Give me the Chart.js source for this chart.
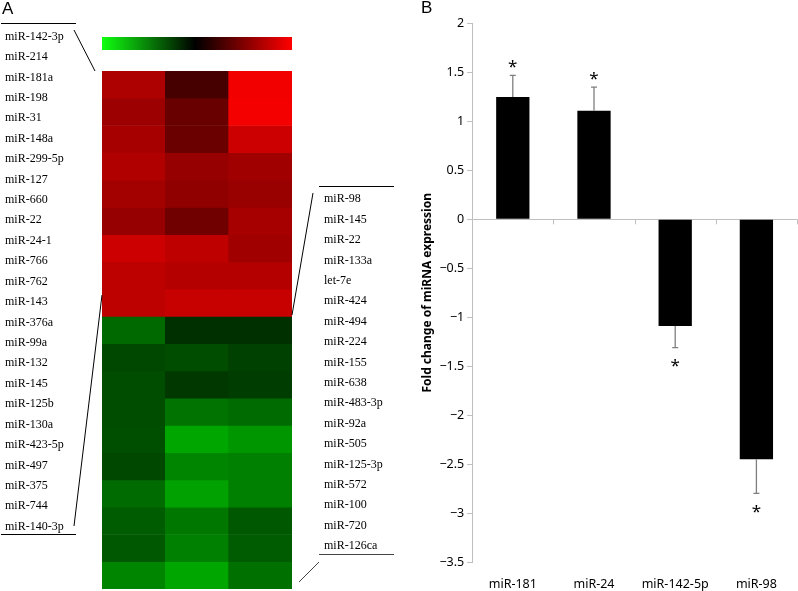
<!DOCTYPE html>
<html>
<head>
<meta charset="utf-8">
<script src="https://cdn.jsdelivr.net/npm/chart.js@4.4.1/dist/chart.umd.min.js"></script>
<style>
  html, body { margin: 0; padding: 0; background: #fff; }
  #page { position: relative; width: 798px; height: 591px; overflow: hidden; }
  #heatBox { position: absolute; left: 0; top: 0; width: 420px; height: 591px; }
  #barBox { position: absolute; left: 420px; top: 0; width: 378px; height: 591px; }
  .lab { position: absolute; font-family: "Liberation Serif", serif; font-size: 12px; line-height: 14px;
         white-space: nowrap; color: #000; transform: translateY(-50%); }
  .panel { position: absolute; font-family: "Liberation Sans", Arial, sans-serif; font-size: 17px; line-height: 17px; }
  #links { position: absolute; left: 0; top: 0; }
</style>
</head>
<body>
<div id="page">
  <div id="heatBox"><canvas id="heat"></canvas></div>
  <div id="barBox"><canvas id="bars"></canvas></div>
  <svg id="links" width="420" height="591">
    <g stroke="#000" stroke-width="1" fill="none">
      <line x1="1" y1="23.5" x2="76" y2="23.5"/>
      <line x1="74" y1="30" x2="95" y2="71"/>
      <line x1="1" y1="534.5" x2="76" y2="534.5"/>
      <line x1="102" y1="295" x2="74" y2="526"/>
      <line x1="319" y1="186.5" x2="394" y2="186.5"/>
      <line x1="313" y1="193" x2="292" y2="315"/>
      <line x1="319" y1="554.5" x2="394" y2="554.5" stroke="#444"/>
      <line x1="319" y1="562" x2="299" y2="582" stroke="#444"/>
    </g>
  </svg>
  <div class="panel" style="left:2px; top:0px;">A</div>
  <div class="panel" style="left:421px; top:-1px;">B</div>
</div>
<script>
/* Panel A: heatmap, three samples x 19 miRNAs (log ratio, red up / green down) */
const heatColumns = ['1', '2', '3'];
const heatCol1 = [0.68, 0.61, 0.65, 0.69, 0.64, 0.59, 0.80, 0.74, 0.74,
  -0.41, -0.28, -0.30, -0.30, -0.31, -0.28, -0.42, -0.36, -0.35, -0.52];
const heatCol2 = [0.28, 0.41, 0.42, 0.59, 0.57, 0.44, 0.75, 0.71, 0.78,
  -0.19, -0.30, -0.22, -0.45, -0.65, -0.52, -0.63, -0.47, -0.50, -0.65];
const heatCol3 = [0.95, 0.96, 0.80, 0.63, 0.60, 0.65, 0.63, 0.71, 0.78,
  -0.19, -0.25, -0.24, -0.42, -0.59, -0.50, -0.50, -0.35, -0.36, -0.44];

const leftNames = ['miR-142-3p', 'miR-214', 'miR-181a', 'miR-198', 'miR-31', 'miR-148a',
  'miR-299-5p', 'miR-127', 'miR-660', 'miR-22', 'miR-24-1', 'miR-766', 'miR-762', 'miR-143',
  'miR-376a', 'miR-99a', 'miR-132', 'miR-145', 'miR-125b', 'miR-130a', 'miR-423-5p',
  'miR-497', 'miR-375', 'miR-744', 'miR-140-3p'];
const rightNames = ['miR-98', 'miR-145', 'miR-22', 'miR-133a', 'let-7e', 'miR-424', 'miR-494',
  'miR-224', 'miR-155', 'miR-638', 'miR-483-3p', 'miR-92a', 'miR-505', 'miR-125-3p',
  'miR-572', 'miR-100', 'miR-720', 'miR-126ca'];

/* Panel B: qPCR fold change */
const barLabels = ['miR-181', 'miR-24', 'miR-142-5p', 'miR-98'];
const foldChange = [1.25, 1.11, -1.09, -2.45];
const foldError = [0.22, 0.24, 0.22, 0.35];
const significant = [true, true, true, true];

const page = document.getElementById('page');
function addLabels(names, x, y0, step) {
  names.forEach((n, i) => {
    const d = document.createElement('div');
    d.className = 'lab';
    d.textContent = n;
    d.style.left = x + 'px';
    d.style.top = (y0 + i * step) + 'px';
    page.appendChild(d);
  });
}
addLabels(leftNames, 5, 35.7, 20.42);
addLabels(rightNames, 324, 198.3, 20.4);

const heatColor = v => v >= 0
  ? `rgb(${Math.round(v * 255)},0,0)`
  : `rgb(0,${Math.round(-v * 255)},0)`;

const colorBar = {
  id: 'colorBar',
  afterDraw(chart) {
    const { ctx, chartArea: a } = chart;
    const g = ctx.createLinearGradient(a.left, 0, a.right, 0);
    g.addColorStop(0, '#10ff10');
    g.addColorStop(0.49, '#000');
    g.addColorStop(1, '#ff0000');
    ctx.save();
    ctx.fillStyle = g;
    ctx.fillRect(a.left, 37, a.right - a.left, 13);
    ctx.restore();
  },
};

const heatCols = [heatCol1, heatCol2, heatCol3];
new Chart(document.getElementById('heat'), {
  type: 'bar',
  data: {
    labels: heatColumns,
    datasets: heatCol1.map((_, r) => ({
      data: heatCols.map(() => [r, r + 1]),
      backgroundColor: heatCols.map(col => heatColor(col[r])),
      borderWidth: 0,
      grouped: false,
      barPercentage: 1,
      categoryPercentage: 1,
    })),
  },
  options: {
    responsive: true,
    maintainAspectRatio: false,
    animation: false,
    layout: { padding: { left: 102, right: 128, top: 71, bottom: 2 } },
    plugins: { legend: { display: false }, tooltip: { enabled: false } },
    scales: {
      x: { display: false },
      y: { display: false, reverse: true, min: 0, max: heatCol1.length },
    },
  },
  plugins: [colorBar],
});

/* error bars, asterisks and the small ticks on the zero line */
const barExtras = {
  id: 'barExtras',
  afterDatasetsDraw(chart) {
    const { ctx } = chart;
    const x = chart.scales.x, y = chart.scales.y;
    const y0 = y.getPixelForValue(0);
    ctx.save();
    ctx.strokeStyle = '#bfbfbf';
    ctx.lineWidth = 1;
    for (let i = 1; i <= barLabels.length; i++) {
      const px = Math.round(x.getPixelForValue(i - 0.5)) + 0.5;
      ctx.beginPath();
      ctx.moveTo(px, y0);
      ctx.lineTo(px, y0 + 5);
      ctx.stroke();
    }
    ctx.strokeStyle = '#7f7f7f';
    ctx.lineWidth = 1.3;
    ctx.fillStyle = '#000';
    ctx.font = '17px "Noto Sans"';
    ctx.textAlign = 'center';
    ctx.textBaseline = 'middle';
    foldChange.forEach((v, i) => {
      const cx = x.getPixelForValue(i);
      const end = v + Math.sign(v) * foldError[i];
      const pb = y.getPixelForValue(v), pe = y.getPixelForValue(end);
      ctx.beginPath();
      ctx.moveTo(cx, pb);
      ctx.lineTo(cx, pe);
      ctx.moveTo(cx - 3, pe);
      ctx.lineTo(cx + 3, pe);
      ctx.stroke();
      if (significant[i]) {
        ctx.fillText('*', cx, v > 0 ? pe - 8 : pe + 19);
      }
    });
    ctx.restore();
  },
};

const tickFont = { family: '"Noto Sans", sans-serif', size: 12.5 };
new Chart(document.getElementById('bars'), {
  type: 'bar',
  data: {
    labels: barLabels,
    datasets: [{
      data: foldChange,
      backgroundColor: '#000',
      borderWidth: 0,
      barPercentage: 0.41,
      categoryPercentage: 1,
    }],
  },
  options: {
    responsive: true,
    maintainAspectRatio: false,
    animation: false,
    layout: { padding: { top: 23.5, right: 1, bottom: -16, left: 0 } },
    plugins: { legend: { display: false }, tooltip: { enabled: false } },
    scales: {
      x: {
        grid: { display: false, drawTicks: false },
        border: { display: false },
        ticks: { color: '#000', font: tickFont, padding: 15 },
      },
      y: {
        min: -3.5,
        max: 2,
        ticks: {
          stepSize: 0.5,
          color: '#000',
          font: tickFont,
          padding: 3,
          callback: v => String(v).replace('-', '\u2212'),
        },
        grid: {
          color: c => (c.tick && c.tick.value === 0 ? '#bfbfbf' : 'rgba(0,0,0,0)'),
          tickColor: '#bfbfbf',
          tickLength: 5,
        },
        border: { color: '#bfbfbf' },
        title: {
          display: true,
          text: 'Fold change of miRNA expression',
          color: '#000',
          font: { family: '"Noto Sans", sans-serif', size: 12, weight: 'bold' },
          padding: { top: 0, bottom: 2 },
        },
      },
    },
  },
  plugins: [barExtras],
});
</script>
</body>
</html>
